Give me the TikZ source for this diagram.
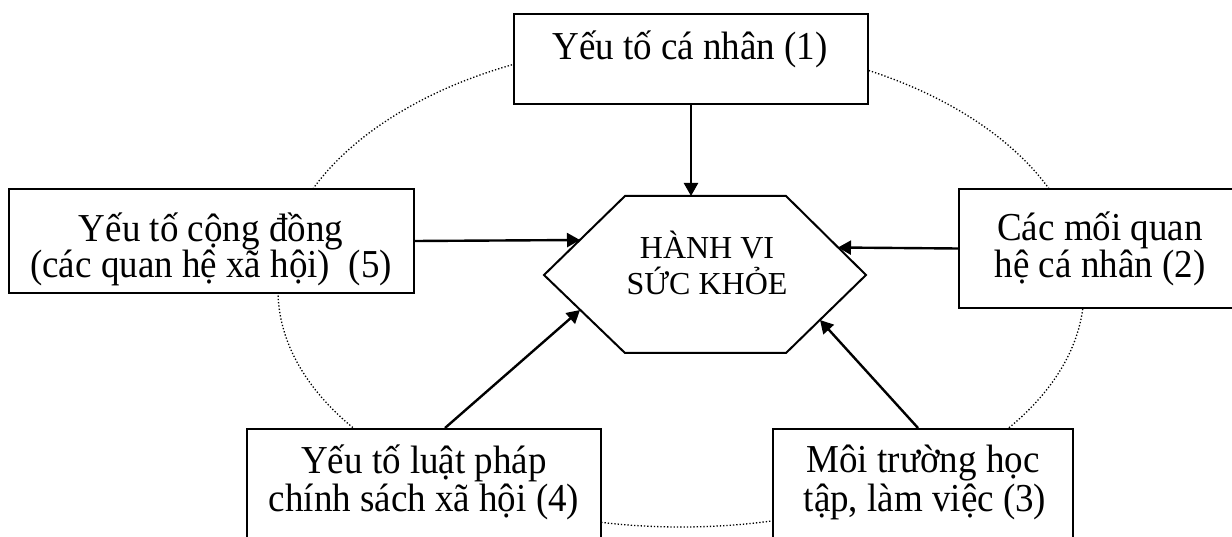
\documentclass[tikz,border=0pt]{standalone}
\usepackage{fontspec}
\usepackage{graphicx}
\setmainfont{Liberation Serif}
\usetikzlibrary{arrows.meta,calc}
\newcommand{\tallt}[1]{\scalebox{1}[1.07]{#1}}
\begin{document}
\begin{tikzpicture}[x=1pt,y=-1pt,
  box/.style={draw=black, line width=2pt, fill=white, inner sep=0pt, anchor=north west},
  lbl/.style={font=\fontsize{37}{34}\selectfont, anchor=base, inner sep=0pt},
  hexlbl/.style={font=\fontsize{32}{36}\selectfont, anchor=base, inner sep=0pt},
  arr/.style={line width=2.4pt, -{Triangle[length=13pt,width=14pt]}},
  dots/.style={line width=1.3pt, dash pattern=on 1.3pt off 2pt}
]
\path[use as bounding box] (0,0) rectangle (1232,537);
\clip (0,0) rectangle (1232,537);
\fill[white] (0,0) rectangle (1232,537);
% dotted oval
\draw[dots] (1084,290) arc[start angle=0, end angle=-180, x radius=403, y radius=248]
                      arc[start angle=180, end angle=0, x radius=403, y radius=237];
% boxes
\node[box, minimum width=354pt, minimum height=90pt] (n1) at (513,13) {};
\node[box, minimum width=405pt, minimum height=104pt] (n5) at (8,188) {};
\node[box, minimum width=320pt, minimum height=119pt] (n2) at (958,188) {};
\node[box, minimum width=354pt, minimum height=140pt] (n4) at (246,428) {};
\node[box, minimum width=300pt, minimum height=140pt] (n3) at (772,428) {};
% labels
\node[lbl] (t1) at (690,60) {\tallt{Yếu tố cá nhân (1)}};
\node[lbl] (t5a) at (211,242) {\tallt{Yếu tố cộng đồng}};
\node[lbl] (t5b) at (211,278) {\tallt{(các quan hệ xã hội) \ (5)}};
\node[lbl] (t2a) at (1100,241) {\tallt{Các mối quan}};
\node[lbl] (t2b) at (1100,278) {\tallt{hệ cá nhân (2)}};
\node[lbl] (t4a) at (424,473) {\tallt{Yếu tố luật pháp}};
\node[lbl] (t4b) at (424,511) {\tallt{chính sách xã hội (4)}};
\node[lbl] (t3a) at (923,472) {\tallt{Môi trường học}};
\node[lbl] (t3b) at (925,511) {\tallt{tập, làm việc (3)}};
% hexagon
\coordinate (h1) at (544,275);
\coordinate (h2) at (625,196);
\coordinate (h3) at (786,196);
\coordinate (h4) at (866,275);
\coordinate (h5) at (786,353);
\coordinate (h6) at (625,353);
\draw[line width=2pt, fill=white] (h1)--(h2)--(h3)--(h4)--(h5)--(h6)--cycle;
\node[hexlbl] (hv) at (707,259) {HÀNH VI};
\node[hexlbl] (hv2) at (707,295) {SỨC KHỎE};
% arrow end points
\coordinate (e5) at (580,240);
\coordinate (e2) at (838,247.5);
\coordinate (s4) at ($(n4.north west)+(199,0)$);
\coordinate (e4) at (580,310);
\coordinate (s3) at ($(n3.north west)+(146,0)$);
\coordinate (e3) at (820,320);
% arrows
\draw[arr] (n1.south) -- (n1.south |- h2);
\draw[arr] (n5.east) -- (e5);
\draw[arr] (n2.west) -- (e2);
\draw[arr] (s4) -- (e4);
\draw[arr] (s3) -- (e3);
\end{tikzpicture}
\end{document}
